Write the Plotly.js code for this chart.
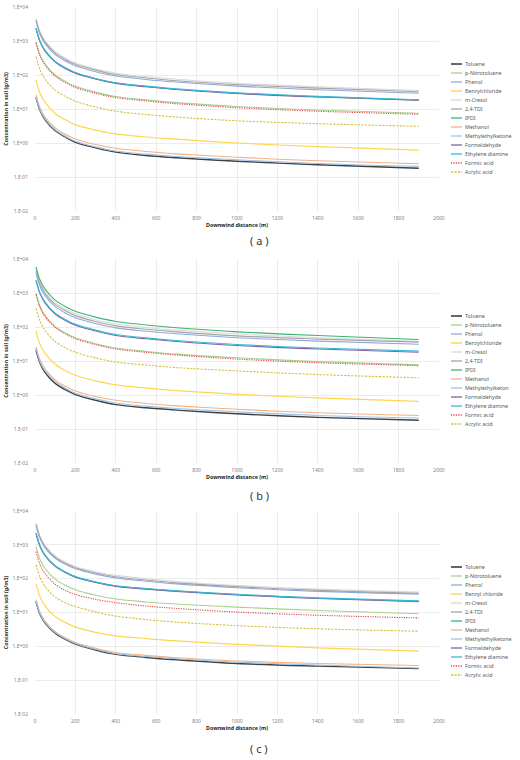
<!DOCTYPE html>
<html><head><meta charset="utf-8">
<script src="https://cdn.plot.ly/plotly-3.0.1.min.js"></script>
<style>html,body{margin:0;padding:0;background:#fff}#chart{width:520px;height:760px}</style>
</head><body><div id="chart"></div>
<script>
// ---------------- DATA ----------------
const distance = [5, 25, 50, 100, 150, 200, 300, 400, 550, 700, 1000, 1400, 1900];

const chemicals = ['Toluene','p-Nitrotoluene','Phenol','Benzylchloride','m-Cresol','2,4-TDI','IPDI',
  'Methanol','Methylethylketone','Formaldehyde','Ethylene diamine','Formic acid','Acrylic acid'];
const legendLabelsA = ['Toluene','p-Nitrotoluene','Phenol','Benzylchloride','m-Cresol','2,4-TDI','IPDI',
  'Methanol','Methylethylketone','Formaldehyde','Ethylene diamine','Formic acid','Acrylic acid'];
const legendLabelsB = ['Toluene','p-Nitrotoluene','Phenol','Benzylchloride','m-Cresol','2,4-TDI','IPDI',
  'Methanol','Methylethylketon','Formaldehyde','Ethylene diamine','Formic acid','Acrylic acid'];
const legendLabelsC = ['Toluene','p-Nitrotoluene','Phenol','Benzyl chloride','m-Cresol','2,4-TDI','IPDI',
  'Methanol','Methylethylketone','Formaldehyde','Ethylene diamine','Formic acid','Acrylic acid'];

// concentration in soil (g/m3), panel (a)
const concA = [
  [22, 9.0, 4.8, 2.3, 1.5, 1.05, 0.72, 0.54, 0.43, 0.37, 0.29, 0.23, 0.18],       // Toluene
  [950, 390, 209, 100, 65, 46.5, 31.4, 23.3, 18.5, 15.4, 11.8, 9.3, 7.5],          // p-Nitrotoluene
  [3800, 1560, 836, 399, 258, 186, 125, 93, 74, 62, 47, 37, 29],                   // Phenol
  [71, 29, 15.6, 7.4, 4.8, 3.4, 2.4, 1.85, 1.5, 1.3, 1.0, 0.78, 0.62],             // Benzylchloride
  [4600, 1890, 1010, 483, 313, 225, 152, 113, 90, 75, 57, 45, 35],                 // m-Cresol
  [4200, 1720, 924, 441, 286, 206, 139, 103, 82, 68, 52, 41, 32],                  // 2,4-TDI
  [2350, 960, 517, 247, 160, 115, 78, 58, 46, 38, 29, 23, 18.2],                   // IPDI
  [26, 10.7, 5.8, 2.8, 1.8, 1.32, 0.9, 0.7, 0.56, 0.48, 0.38, 0.3, 0.245],         // Methanol
  [23, 9.4, 5.1, 2.45, 1.58, 1.13, 0.77, 0.58, 0.47, 0.4, 0.32, 0.25, 0.205],      // Methylethylketone
  [2300, 940, 505, 241, 156, 113, 76, 56, 45, 37.5, 28.5, 22.5, 18],               // Formaldehyde
  [2400, 985, 528, 252, 163, 118, 79, 59, 47, 39, 30, 23.5, 18.8],                 // Ethylene diamine
  [880, 360, 194, 92, 60, 43, 29, 21.6, 17.2, 14.3, 10.9, 8.6, 7.0],               // Formic acid
  [345, 141, 76, 36, 23.5, 16.9, 11.5, 8.6, 6.9, 5.8, 4.5, 3.7, 3.1]               // Acrylic acid
];
// panel (b)
const concB = [
  [21, 8.6, 4.6, 2.2, 1.43, 1.03, 0.7, 0.52, 0.42, 0.36, 0.28, 0.22, 0.18],
  [980, 402, 216, 103, 67, 48, 32.3, 24, 19.1, 15.9, 12.4, 9.6, 7.7],
  [3800, 1560, 836, 399, 258, 186, 126, 94, 75, 63, 48.5, 38.5, 31],
  [76, 31, 16.7, 8.0, 5.2, 3.8, 2.6, 1.98, 1.6, 1.35, 1.05, 0.82, 0.65],
  [4970, 2040, 1090, 522, 338, 244, 164, 122, 97, 81, 62, 48.5, 38],
  [4400, 1800, 968, 462, 299, 216, 145, 108, 86, 72, 55, 44, 36],
  [5900, 2420, 1300, 620, 401, 289, 195, 145, 115, 95, 72, 56, 43],
  [26, 10.7, 5.8, 2.8, 1.8, 1.32, 0.9, 0.7, 0.56, 0.48, 0.38, 0.3, 0.25],
  [23, 9.4, 5.1, 2.45, 1.58, 1.13, 0.77, 0.58, 0.47, 0.4, 0.32, 0.25, 0.21],
  [2300, 940, 505, 241, 156, 113, 76, 56, 45, 37.5, 28.5, 22.5, 18],
  [2450, 1000, 540, 257, 167, 120, 81, 60, 48, 40, 30.5, 24, 19.5],
  [920, 377, 202, 97, 63, 45, 30.4, 22.5, 18, 15, 11.4, 8.9, 7.3],
  [355, 146, 78, 37.5, 24.5, 18, 12.3, 9.3, 7.6, 6.4, 5.1, 4.0, 3.2]
];
// panel (c)
const concC = [
  [21, 8.8, 4.9, 2.45, 1.6, 1.17, 0.78, 0.58, 0.47, 0.4, 0.31, 0.26, 0.22],
  [890, 370, 200, 97, 64, 47, 32.5, 25, 20.5, 17.8, 14.4, 11.5, 9.2],
  [3700, 1530, 815, 400, 265, 195, 136, 105, 84, 70, 54, 42, 35],
  [70, 29, 15.5, 7.6, 5.1, 3.7, 2.6, 2.05, 1.7, 1.45, 1.15, 0.9, 0.72],
  [4350, 1800, 960, 470, 310, 230, 160, 125, 99, 82, 63, 49, 40],
  [4000, 1650, 880, 430, 285, 210, 147, 114, 91, 75, 58, 45, 37],
  [2200, 910, 485, 235, 155, 113, 79, 61, 50, 43, 34, 26.5, 21.5],
  [24, 10, 5.5, 2.7, 1.8, 1.3, 0.88, 0.66, 0.54, 0.46, 0.37, 0.31, 0.27],
  [22, 9.2, 5.1, 2.55, 1.67, 1.22, 0.82, 0.61, 0.5, 0.43, 0.34, 0.28, 0.23],
  [2150, 890, 475, 230, 152, 110, 77, 59, 49, 42, 33, 26, 21],
  [2250, 930, 495, 240, 158, 115, 80, 62, 51, 44, 34.5, 27, 22],
  [630, 260, 140, 68, 45, 34, 24.5, 19.5, 15.5, 13.2, 10.3, 8.3, 6.9],
  [260, 108, 58, 28.5, 19.5, 15, 10.4, 7.8, 6.2, 5.2, 4.1, 3.3, 2.8]
];

const yTickVals = [0.01, 0.1, 1, 10, 100, 1000, 10000];
const yTickText = ['1.E-02','1.E-01','1.E+00','1.E+01','1.E+02','1.E+03','1.E+04'];
const xTickVals = [0, 200, 400, 600, 800, 1000, 1200, 1400, 1600, 1800, 2000];
const panelLabels = ['( a )', '( b )', '( c )'];
const xTitle = 'Downwind distance (m)';
const yTitle = 'Concentration in soil (g/m3)';

// ---------------- STYLE ----------------
const lineColors = ['#404040','#a9d18e','#8ea9db','#ffd54f','#d9d9d9','#a5a5a5','#3cb371',
  '#f4b183','#9dc3e6','#8064a2','#36b9d9','#e0474c','#d4c03a'];
const lineDashes = ['solid','solid','solid','solid','solid','solid','solid',
  'solid','solid','solid','solid','1.2px,1.2px','2.2px,1.3px'];
const lineWidths = [1.4,1.1,1.1,1.2,1.1,1.1,1.1,1.1,1.1,1.1,1.1,1.1,1.1];

const W = 520, H = 760;
const plotLeft = 35, plotRight = 439;
const panelTop = [7, 259, 511], panelBottom = [211, 463, 714];
const legendTop = [64, 316, 567], legendStep = 9;
const labelY = [240, 495, 748];
const FONT = 'Noto Sans, Open Sans, sans-serif';

const concAll = [concA, concB, concC];
const labelsAll = [legendLabelsA, legendLabelsB, legendLabelsC];

const traces = [];
const shapes = [];
const annotations = [];
const layout = {
  width: W, height: H,
  margin: {l: 0, r: 0, t: 0, b: 0},
  paper_bgcolor: '#ffffff', plot_bgcolor: '#ffffff',
  showlegend: false,
  font: {family: FONT, size: 5, color: '#7f7f7f'}
};

for (let p = 0; p < 3; p++) {
  const sfx = p === 0 ? '' : String(p + 1);
  for (let i = 0; i < chemicals.length; i++) {
    traces.push({
      type: 'scatter', mode: 'lines',
      x: distance, y: concAll[p][i],
      name: labelsAll[p][i],
      xaxis: 'x' + sfx, yaxis: 'y' + sfx,
      line: {color: lineColors[i], width: lineWidths[i], dash: lineDashes[i], shape: 'spline', smoothing: 0.9},
      hoverinfo: 'skip', showlegend: false
    });
    // legend entry
    const ly = 1 - (legendTop[p] + i * legendStep) / H;
    shapes.push({type: 'line', xref: 'paper', yref: 'paper',
      x0: 451 / W, x1: 462 / W, y0: ly, y1: ly,
      line: {color: lineColors[i], width: lineWidths[i] + 0.2, dash: lineDashes[i]}});
    annotations.push({xref: 'paper', yref: 'paper', x: 463 / W, y: ly,
      xanchor: 'left', yanchor: 'middle', showarrow: false,
      text: labelsAll[p][i], font: {family: FONT, size: 5.3, color: '#595959'}});
  }
  const yDom = [1 - panelBottom[p] / H, 1 - panelTop[p] / H];
  layout['xaxis' + sfx] = {
    domain: [plotLeft / W, plotRight / W], anchor: 'y' + sfx,
    range: [0, 2000], tickvals: xTickVals, ticktext: xTickVals.map(String),
    showgrid: true, gridcolor: '#e4e4e4', gridwidth: 0.7,
    zeroline: false, showline: false, ticks: '',
    ticklabelstandoff: 3,
    tickfont: {family: FONT, size: 5, color: '#7f7f7f'},
    title: {text: '<b>' + xTitle + '</b>', font: {family: FONT, size: 5.3, color: '#262626'}, standoff: 2},
    automargin: false, fixedrange: true
  };
  layout['yaxis' + sfx] = {
    domain: yDom, anchor: 'x' + sfx, type: 'log',
    range: [-2, 4], tickvals: yTickVals, ticktext: yTickText,
    showgrid: true, gridcolor: '#e4e4e4', gridwidth: 0.7,
    zeroline: false, showline: false, ticks: '',
    ticklabelstandoff: 6,
    tickfont: {family: FONT, size: 5, color: '#7f7f7f'},
    title: {text: '<b>' + yTitle + '</b>', font: {family: FONT, size: 5.3, color: '#262626'}, standoff: 3},
    automargin: false, fixedrange: true
  };
  annotations.push({xref: 'paper', yref: 'paper', x: 259 / W, y: 1 - labelY[p] / H,
    xanchor: 'center', yanchor: 'middle', showarrow: false,
    text: panelLabels[p], font: {family: FONT, size: 11, color: '#333333'}});
}
layout.shapes = shapes;
layout.annotations = annotations;

Plotly.newPlot('chart', traces, layout, {staticPlot: true, displayModeBar: false});
</script>
</body></html>
